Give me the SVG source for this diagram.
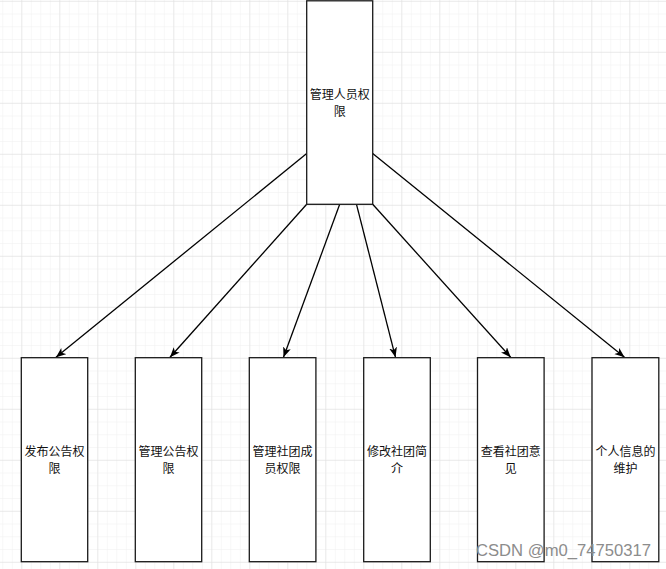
<svg xmlns="http://www.w3.org/2000/svg" width="666" height="569" viewBox="0 0 666 569">
  <defs>
    <pattern id="minor" patternUnits="userSpaceOnUse" x="21.3" y="0.8" width="9.5" height="12.75">
      <path d="M0,0 V12.75 M0,0 H9.5" stroke="#f0f0f0" stroke-width="1" fill="none"/>
    </pattern>
    <pattern id="major" patternUnits="userSpaceOnUse" x="21.3" y="0.8" width="38" height="51">
      <path d="M0,0 V51 M0,0 H38" stroke="#dedede" stroke-width="1" fill="none"/>
    </pattern>
    <marker id="arrow" markerUnits="userSpaceOnUse" markerWidth="11" markerHeight="9" refX="10" refY="4" orient="auto">
      <path d="M0,0 L10,4 L0,8 L2.6,4 Z" fill="#000"/>
    </marker>
    <style>
      .box { fill: #ffffff; stroke: #1a1a1a; stroke-width: 1.3; }
      .lbl { font-family: "Noto Sans CJK SC", "Noto Sans", sans-serif; font-size: 12px; fill: #111; text-anchor: middle; }
      .edge { stroke: #000; stroke-width: 1.3; fill: none; marker-end: url(#arrow); }
      .wm { font-family: "Liberation Sans", Arial, sans-serif; font-size: 16px; fill: #8c8c8c; }
    </style>
  </defs>

  <rect x="0" y="0" width="666" height="569" fill="#ffffff"/>
  <rect x="0" y="0" width="666" height="569" fill="url(#minor)"/>
  <rect x="0" y="0" width="666" height="569" fill="url(#major)"/>

  <g id="connectors">
    <line class="edge" x1="306.7" y1="153.5" x2="56" y2="357.3"/>
    <line class="edge" x1="306.7" y1="204.3" x2="170" y2="357.3"/>
    <line class="edge" x1="339.7" y1="204.3" x2="283.5" y2="357.3"/>
    <line class="edge" x1="356.5" y1="204.3" x2="395.5" y2="357.3"/>
    <line class="edge" x1="372.7" y1="204.3" x2="510.7" y2="357.3"/>
    <line class="edge" x1="372.7" y1="153.5" x2="624.5" y2="357.3"/>
  </g>

  <g id="node-top">
    <rect class="box" x="306.7" y="0.8" width="66" height="203.5"/>
    <text class="lbl" x="339.7" y="98.5">管理人员权</text>
    <text class="lbl" x="339.7" y="115.5">限</text>
  </g>

  <g id="node-1">
    <rect class="box" x="21.3" y="357.7" width="66.4" height="204"/>
    <text class="lbl" x="54.5" y="455.5">发布公告权</text>
    <text class="lbl" x="54.5" y="472.5">限</text>
  </g>

  <g id="node-2">
    <rect class="box" x="135.3" y="357.7" width="66.4" height="204"/>
    <text class="lbl" x="168.5" y="455.5">管理公告权</text>
    <text class="lbl" x="168.5" y="472.5">限</text>
  </g>

  <g id="node-3">
    <rect class="box" x="249.3" y="357.7" width="66.6" height="204"/>
    <text class="lbl" x="282.6" y="455.5">管理社团成</text>
    <text class="lbl" x="282.6" y="472.5">员权限</text>
  </g>

  <g id="node-4">
    <rect class="box" x="363.7" y="357.7" width="66.6" height="204"/>
    <text class="lbl" x="397" y="455.5">修改社团简</text>
    <text class="lbl" x="397" y="472.5">介</text>
  </g>

  <g id="node-5">
    <rect class="box" x="477.5" y="357.7" width="66.6" height="204"/>
    <text class="lbl" x="510.8" y="455.5">查看社团意</text>
    <text class="lbl" x="510.8" y="472.5">见</text>
  </g>

  <g id="node-6">
    <rect class="box" x="592" y="357.7" width="66.8" height="204"/>
    <text class="lbl" x="625.4" y="455.5">个人信息的</text>
    <text class="lbl" x="625.4" y="472.5">维护</text>
  </g>

  <text class="wm" x="476" y="556" textLength="175" lengthAdjust="spacingAndGlyphs">CSDN @m0_74750317</text>
</svg>
